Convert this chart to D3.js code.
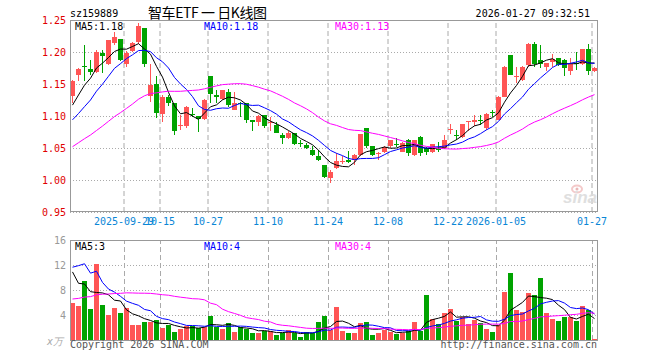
<!DOCTYPE html>
<html>
<head>
<meta charset="utf-8">
<script src="https://cdn.jsdelivr.net/npm/d3@7"></script>
<style>
  body { margin: 0; background: #fff; }
  text { font-family: "DejaVu Sans Mono", monospace; font-size: 10px; }
</style>
</head>
<body>
<svg id="chart" width="660" height="360"></svg>
<script>
// daily K line of sz159889, 88 sessions
const dates = [
  '2025-09-16','2025-09-17','2025-09-18','2025-09-19','2025-09-22','2025-09-23','2025-09-24','2025-09-25','2025-09-26','2025-09-29',
  '2025-09-30','2025-10-09','2025-10-10','2025-10-13','2025-10-14','2025-10-15','2025-10-16','2025-10-17','2025-10-20','2025-10-21',
  '2025-10-22','2025-10-23','2025-10-24','2025-10-27','2025-10-28','2025-10-29','2025-10-30','2025-10-31','2025-11-03','2025-11-04',
  '2025-11-05','2025-11-06','2025-11-07','2025-11-10','2025-11-11','2025-11-12','2025-11-13','2025-11-14','2025-11-17','2025-11-18',
  '2025-11-19','2025-11-20','2025-11-21','2025-11-24','2025-11-25','2025-11-26','2025-11-27','2025-11-28','2025-12-01','2025-12-02',
  '2025-12-03','2025-12-04','2025-12-05','2025-12-08','2025-12-09','2025-12-10','2025-12-11','2025-12-12','2025-12-15','2025-12-16',
  '2025-12-17','2025-12-18','2025-12-19','2025-12-22','2025-12-23','2025-12-24','2025-12-25','2025-12-26','2025-12-29','2025-12-30',
  '2025-12-31','2026-01-05','2026-01-06','2026-01-07','2026-01-08','2026-01-09','2026-01-12','2026-01-13','2026-01-14','2026-01-15',
  '2026-01-16','2026-01-19','2026-01-20','2026-01-21','2026-01-22','2026-01-23','2026-01-26','2026-01-27'
];

const opens = [
  1.131,1.164,1.178,1.174,1.168,1.199,1.182,1.214,1.220,1.182,
  1.202,1.215,1.237,1.131,1.150,1.103,1.129,1.120,1.085,1.084,
  1.103,1.100,1.095,1.163,1.133,1.127,1.137,1.110,1.120,1.120,
  1.094,1.090,1.102,1.090,1.086,1.070,1.065,1.073,1.058,1.054,
  1.047,1.038,1.023,1.003,1.018,1.028,1.031,1.031,1.039,1.081,
  1.053,1.041,1.043,1.053,1.056,1.044,1.063,1.039,1.067,1.050,
  1.043,1.049,1.050,1.079,1.070,1.067,1.091,1.090,1.093,1.081,
  1.107,1.094,1.130,1.195,1.161,1.156,1.180,1.213,1.188,1.176,
  1.184,1.190,1.188,1.171,1.183,1.182,1.205,1.171
];
const highs = [
  1.157,1.175,1.211,1.188,1.203,1.203,1.219,1.232,1.221,1.201,
  1.216,1.246,1.237,1.182,1.163,1.133,1.133,1.120,1.102,1.115,
  1.113,1.100,1.127,1.163,1.140,1.141,1.142,1.138,1.122,1.120,
  1.094,1.102,1.102,1.098,1.090,1.074,1.076,1.074,1.063,1.058,
  1.053,1.047,1.023,1.016,1.042,1.037,1.045,1.041,1.072,1.082,
  1.053,1.044,1.053,1.063,1.065,1.060,1.064,1.063,1.068,1.052,
  1.057,1.060,1.070,1.088,1.078,1.088,1.092,1.102,1.102,1.104,
  1.110,1.131,1.178,1.196,1.177,1.178,1.214,1.215,1.211,1.183,
  1.197,1.191,1.189,1.190,1.200,1.205,1.213,1.176
];
const lows = [
  1.120,1.155,1.154,1.164,1.167,1.167,1.180,1.211,1.186,1.177,
  1.200,1.213,1.176,1.122,1.097,1.090,1.115,1.070,1.078,1.082,
  1.099,1.075,1.094,1.121,1.120,1.125,1.114,1.109,1.099,1.089,
  1.076,1.084,1.082,1.076,1.073,1.056,1.064,1.055,1.052,1.048,
  1.037,1.030,1.003,0.996,1.017,1.025,1.027,1.023,1.037,1.050,
  1.038,1.031,1.042,1.050,1.052,1.043,1.037,1.037,1.037,1.039,
  1.042,1.044,1.048,1.072,1.063,1.065,1.077,1.084,1.086,1.078,
  1.098,1.093,1.129,1.164,1.151,1.155,1.177,1.177,1.175,1.170,
  1.177,1.178,1.163,1.164,1.172,1.180,1.164,1.169
];
const closes = [
  1.155,1.174,1.177,1.169,1.200,1.193,1.218,1.224,1.188,1.199,
  1.214,1.240,1.182,1.148,1.104,1.130,1.121,1.076,1.086,1.114,
  1.102,1.096,1.125,1.135,1.129,1.141,1.117,1.120,1.118,1.094,
  1.090,1.100,1.084,1.091,1.074,1.065,1.073,1.056,1.057,1.050,
  1.039,1.031,1.004,1.013,1.029,1.029,1.028,1.039,1.072,1.053,
  1.039,1.042,1.052,1.062,1.055,1.058,1.042,1.062,1.042,1.043,
  1.056,1.048,1.062,1.080,1.069,1.088,1.092,1.094,1.092,1.103,
  1.106,1.130,1.177,1.164,1.162,1.177,1.213,1.182,1.181,1.183,
  1.189,1.180,1.175,1.182,1.182,1.204,1.171,1.175
];
// volume, x万
const volumes = [
  5.97,5.49,9.44,4.96,12.16,5.6,4.0,5.12,4.32,5.12,
  2.4,2.4,2.83,2.88,3.2,1.92,2.4,1.28,1.76,2.24,
  2.24,1.97,2.08,3.84,2.08,1.76,2.72,1.28,2.08,1.76,
  1.12,1.12,1.44,1.44,0.8,1.12,1.6,1.12,0.48,1.28,
  1.12,2.88,3.89,1.6,5.33,1.44,1.12,1.12,2.72,2.88,
  0.8,1.12,1.65,1.28,1.01,1.12,1.44,2.88,1.44,7.2,
  3.36,2.56,4.32,4.96,3.04,3.68,2.56,3.2,2.72,1.76,
  1.28,2.4,7.68,10.72,4.8,4.48,7.52,7.2,9.92,4.32,
  3.36,3.04,3.68,3.68,3.04,5.44,4.8,0.16
];

// sessions before the window, only used by the moving averages (estimated from the MA lines)
const priorCloses = [
  0.985,0.99,0.995,0.99,0.985,0.995,1.0,1.005,1.0,1.01,1.015,1.02,1.045,
  1.07,1.085,1.09,1.08,1.085,1.09,1.085,
  1.075,1.07,1.065,1.062,1.083,1.095,1.1,1.115,1.12
];
const priorVolumes = [
  2.5,3.2,2.8,3.5,2.6,3.0,2.9,3.3,2.7,3.1,3.4,3.0,3.7,
  6.2,5.4,4.8,6.5,5.9,5.6,6.2,
  3,6.4,20,9.1,23.5,14.6,10,11.1,12.8
];

const priceTicks = [0.95, 1.00, 1.05, 1.10, 1.15, 1.20, 1.25];
const volumeTicks = [4, 8, 12, 16];
const dateTicks = ['2025-09-29','2025-10-15','2025-10-27','2025-11-10','2025-11-24','2025-12-08','2025-12-22','2026-01-05','2026-01-27'];
const dateLabels = ['2025-09-29','10-15','10-27','11-10','11-24','12-08','12-22','2026-01-05','01-27'];

const plot = {left: 70, right: 598, priceTop: 20, priceBottom: 212, volTop: 240, volBottom: 340};
const UP = '#ff5555';
const DOWN = '#00a300';
const GRID = '#aaa';

function movingAvg(prior, vals, n) {
  let all = prior.concat(vals);
  return vals.map((v, i) => d3.mean(all.slice(i + prior.length - n + 1, i + prior.length + 1)));
}

let svg = d3.select('#chart');

let x = d3.scaleBand()
  .domain(dates)
  .range([plot.left, plot.right]);

let yPrice = d3.scaleLinear()
  .domain([0.95, 1.25])
  .range([plot.priceBottom, plot.priceTop]);

let yVol = d3.scaleLinear()
  .domain([0, 16])
  .range([plot.volBottom, plot.volTop]);

let candles = dates.map((d, i) => ({
  date: d, open: opens[i], high: highs[i], low: lows[i], close: closes[i], vol: volumes[i]
}));
let color = d => d.close >= d.open ? UP : DOWN;

// header
svg.append('text').attr('x', 70).attr('y', 17).attr('fill', '#000').text('sz159889');
svg.append('text').attr('x', 148).attr('y', 18)
  .attr('textLength', 119).attr('lengthAdjust', 'spacing')
  .style('font-family', '"Noto Sans CJK SC", sans-serif').style('font-size', '14px')
  .attr('fill', '#000').text('智车ETF 一 日K线图');
svg.append('text').attr('x', 590).attr('y', 17).attr('text-anchor', 'end').attr('fill', '#000')
  .text('2026-01-27 09:32:51');

// horizontal grid + y labels
svg.append('g')
  .attr('transform', 'translate(' + plot.left + ',0)')
  .call(d3.axisLeft(yPrice).tickValues(priceTicks).tickFormat(d3.format('.2f'))
    .tickSizeInner(-(plot.right - plot.left)).tickSizeOuter(0).tickPadding(4))
  .call(g => g.select('.domain').remove())
  .call(g => g.selectAll('line').attr('stroke', GRID).attr('stroke-dasharray', '1,2'))
  .call(g => g.selectAll('text').attr('fill', '#e00000').style('font-size', '10px').style('font-family', '"DejaVu Sans Mono", monospace'));

svg.append('g')
  .attr('transform', 'translate(' + plot.left + ',0)')
  .call(d3.axisLeft(yVol).tickValues(volumeTicks).tickFormat(d3.format('d'))
    .tickSizeInner(-(plot.right - plot.left)).tickSizeOuter(0).tickPadding(4))
  .call(g => g.select('.domain').remove())
  .call(g => g.selectAll('line').attr('stroke', GRID).attr('stroke-dasharray', '1,2'))
  .call(g => g.selectAll('text').attr('fill', '#999').style('font-size', '10px').style('font-family', '"DejaVu Sans Mono", monospace'));

// vertical grid + date labels
svg.append('g')
  .attr('transform', 'translate(' + (-x.bandwidth() / 2) + ',' + plot.priceBottom + ')')
  .call(d3.axisBottom(x).tickValues(dateTicks).tickFormat((d, i) => dateLabels[i])
    .tickSizeInner(-(plot.priceBottom - plot.priceTop)).tickSizeOuter(0).tickPadding(6))
  .call(g => g.select('.domain').remove())
  .call(g => g.selectAll('line').attr('stroke', GRID).attr('stroke-dasharray', '5,3'))
  .call(g => g.selectAll('text').attr('fill', '#0a86d6').style('font-size', '10px').style('font-family', '"DejaVu Sans Mono", monospace'));

svg.append('g').selectAll('line')
  .data(dateTicks)
  .enter().append('line')
  .attr('x1', d => x(d) + 0.5).attr('x2', d => x(d) + 0.5)
  .attr('y1', plot.volBottom).attr('y2', plot.volTop)
  .attr('stroke', GRID).attr('stroke-dasharray', '5,3');

// watermark
let mark = svg.append('g').attr('opacity', 0.9);
mark.append('ellipse').attr('cx', 577).attr('cy', 189).attr('rx', 5).attr('ry', 3.5)
  .attr('fill', 'none').attr('stroke', '#f3c4c4').attr('stroke-width', 2);
mark.append('circle').attr('cx', 577).attr('cy', 189).attr('r', 1.5).attr('fill', '#e8b0b0');
mark.append('text').attr('x', 597).attr('y', 203).attr('text-anchor', 'end')
  .style('font-family', '"Liberation Sans", sans-serif').style('font-size', '17px')
  .style('font-weight', 'bold').style('font-style', 'italic')
  .attr('fill', '#dcdcdc').text('sina');

// candles
let candleG = svg.append('g').attr('shape-rendering', 'crispEdges');
candleG.selectAll('.wick')
  .data(candles)
  .enter().append('line')
  .attr('class', 'wick')
  .attr('x1', d => x(d.date) + 2.5).attr('x2', d => x(d.date) + 2.5)
  .attr('y1', d => yPrice(d.high)).attr('y2', d => yPrice(d.low))
  .attr('stroke', color);
candleG.selectAll('.body')
  .data(candles)
  .enter().append('rect')
  .attr('class', 'body')
  .attr('x', d => x(d.date))
  .attr('width', x.bandwidth() - 1)
  .attr('y', d => yPrice(Math.max(d.open, d.close)))
  .attr('height', d => Math.max(1, Math.abs(yPrice(d.open) - yPrice(d.close))))
  .attr('fill', color);

// volume bars
svg.append('g').attr('shape-rendering', 'crispEdges')
  .selectAll('.vol')
  .data(candles)
  .enter().append('rect')
  .attr('class', 'vol')
  .attr('x', d => x(d.date))
  .attr('width', x.bandwidth() - 1)
  .attr('y', d => yVol(d.vol))
  .attr('height', d => plot.volBottom - yVol(d.vol))
  .attr('fill', color);

// moving averages
let maDefs = [{n: 5, color: '#000'}, {n: 10, color: '#0000ff'}, {n: 30, color: '#ff00ff'}];
let lineX = (d, i) => x(dates[i]) + 2.5;

maDefs.forEach(m => {
  let pm = movingAvg(priorCloses, closes, m.n);
  let vm = movingAvg(priorVolumes, volumes, m.n);
  svg.append('path')
    .datum(pm)
    .attr('d', d3.line().x(lineX).y(d => yPrice(d)))
    .attr('fill', 'none').attr('stroke', m.color).attr('stroke-width', 1);
  svg.append('path')
    .datum(vm)
    .attr('d', d3.line().x(lineX).y(d => yVol(d)))
    .attr('fill', 'none').attr('stroke', m.color).attr('stroke-width', 1);
  m.price = pm[pm.length - 1];
  m.vol = vm[vm.length - 1];
});

// MA legends
let legendX = [75, 204, 335];
maDefs.forEach((m, i) => {
  svg.append('text').attr('x', legendX[i]).attr('y', 30).attr('fill', m.color)
    .text('MA' + m.n + ':' + m.price.toFixed(2));
  svg.append('text').attr('x', legendX[i]).attr('y', 250).attr('fill', m.color)
    .text('MA' + m.n + ':' + Math.round(m.vol));
});

// frames
svg.append('rect').attr('x', plot.left + 0.5).attr('y', plot.priceTop + 0.5)
  .attr('width', plot.right - plot.left - 1).attr('height', plot.priceBottom - plot.priceTop - 1)
  .attr('fill', 'none').attr('stroke', '#999');
svg.append('rect').attr('x', plot.left + 0.5).attr('y', plot.volTop + 0.5)
  .attr('width', plot.right - plot.left - 1).attr('height', plot.volBottom - plot.volTop)
  .attr('fill', 'none').attr('stroke', '#999');

// footer
svg.append('text').attr('x', 63).attr('y', 345).attr('text-anchor', 'end')
  .style('font-style', 'italic').attr('fill', '#aaa').text('x万');
svg.append('text').attr('x', 70).attr('y', 348).attr('fill', '#555').text('Copyright 2026 SINA.COM');
svg.append('text').attr('x', 597).attr('y', 348).attr('text-anchor', 'end').attr('fill', '#555')
  .text('http://finance.sina.com.cn');
</script>
</body>
</html>
